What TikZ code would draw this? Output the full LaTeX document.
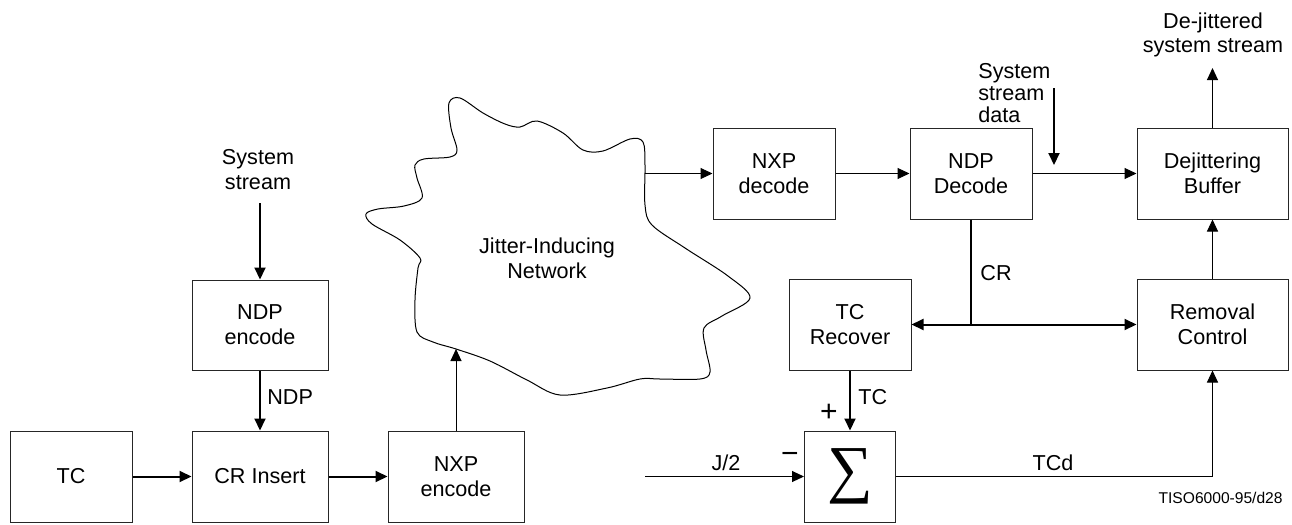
\documentclass[tikz,border=0pt]{standalone}
\usepackage{fontspec}
\setmainfont{Liberation Sans}
\newfontfamily\sumfont{Liberation Serif}
\usetikzlibrary{arrows.meta}

\tikzset{
  blk/.style={draw=black!85, line width=0.5pt, minimum height=45.5pt, inner sep=0pt,
    align=center, font=\fontsize{10.8}{12.5}\selectfont},
  lbl/.style={inner sep=0pt, font=\fontsize{10.8}{12.5}\selectfont},
  sign/.style={inner sep=0pt, font=\fontsize{15}{15}\selectfont},
  thin line/.style={line width=0.5pt},
  thick line/.style={line width=1pt},
  thinarr/.style={thin line, -{Triangle[length=6pt,width=5.5pt]}},
  thickarr/.style={thick line, -{Triangle[length=6pt,width=5.5pt]}},
}

\begin{document}
\begin{tikzpicture}[x=0.5pt,y=-0.5pt]
\useasboundingbox (0,0) rectangle (1292,525);

% sender side
\node[blk, minimum width=61pt] (tc) at (71,476.5) {TC};
\node[blk, minimum width=68pt] (crins) at (260,476.5) {CR Insert};
\node[blk, minimum width=68pt, minimum height=45pt] (ndpenc) at (260,325) {NDP\\encode};
\node[blk, minimum width=68pt] (nxpenc) at (456,476.5) {NXP\\encode};
\node[lbl, align=center] (sysin) at (258,170) {System\\stream};
\coordinate (sysin-end) at (260,203);

% network cloud
\draw[thin line] plot[smooth cycle, tension=0.55] coordinates {
  (449,103) (460,98) (483,113) (505,124) (520,127) (537,121) (563,133) (583,150)
  (603,151) (630,139) (643,142) (645,165) (645,205) (652,225) (685,248) (728,276)
  (750,298) (722,316) (704,328) (706,350) (710,372) (700,379) (660,379) (640,379)
  (607,388) (560,395) (527,380) (490,361) (456,349) (433,342) (417,332) (415,300)
  (418,268) (420,258) (400,240) (372,224) (366,214) (378,209) (404,206) (422,198)
  (417,178) (415,165) (424,159) (450,157) (457,150) (451,128)};
\node[lbl, align=center] (net) at (547,258) {Jitter-Inducing\\Network};
\coordinate (netin) at (456,349);
\coordinate (netout) at (645,173.5);

% receiver side
\node[blk, minimum width=61pt] (nxpdec) at (774,173.5) {NXP\\decode};
\node[blk, minimum width=61pt] (ndpdec) at (971,173.5) {NDP\\Decode};
\node[blk, minimum width=75.5pt] (dejit) at (1212.5,173.5) {Dejittering\\Buffer};
\node[blk, minimum width=61pt] (tcrec) at (850,324.5) {TC\\Recover};
\node[blk, minimum width=75.5pt] (remctl) at (1212.5,324.5) {Removal\\Control};
\node[blk, minimum width=45.5pt] (sum) at (850,476.5) {\sumfont\fontsize{32}{32}\selectfont ∑};
\node[lbl, align=left, anchor=west] (sysdata) at (978,93) {System\\[-1.7pt]stream\\[-1.7pt]data};
\node[lbl, align=center] (dejout) at (1213,35) {De-jittered\\[-0.3pt]system stream};
\coordinate (sysdata-top) at (1054,88);
\coordinate (sysdata-tip) at (1054,165);
\coordinate (dejout-end) at (1212.5,68);
\coordinate (crjoin) at (971,324.5);
\coordinate (j2start) at (645,476.5);

% labels
\node[lbl, anchor=west] (ndplbl) at (267,397) {NDP};
\node[lbl, anchor=west] (crlbl) at (980,273) {CR};
\node[lbl, anchor=west] (tclbl) at (858,397) {TC};
\node[sign] (plus) at (829,413) {+};
\node[sign] (minus) at (790,458) {−};
\node[lbl] (j2) at (726,463) {J/2};
\node[lbl] (tcd) at (1053,463) {TCd};
\node[inner sep=0pt, font=\fontsize{7.8}{9}\selectfont, anchor=east] (tiso) at (1283,498) {TISO6000-95/d28};

% connectors
\draw[thickarr] (sysin-end) -- (ndpenc.north);
\draw[thickarr] (ndpenc) -- (crins);
\draw[thickarr] (tc) -- (crins);
\draw[thickarr] (crins) -- (nxpenc);
\draw[thinarr] (nxpenc.north) -- (netin);
\draw[thinarr] (netout) -- (nxpdec);
\draw[thinarr] (nxpdec) -- (ndpdec);
\draw[thinarr] (ndpdec) -- (dejit);
\draw[thickarr] (sysdata-top) -- (sysdata-tip);
\draw[thinarr] (dejit) -- (dejout-end);
\draw[thick line] (ndpdec.south) -- (crjoin);
\draw[thickarr] (crjoin) -- (tcrec.east);
\draw[thickarr] (crjoin) -- (remctl.west);
\draw[thinarr] (remctl) -- (dejit);
\draw[thickarr] (tcrec.south) -- (sum.north);
\draw[thinarr] (j2start) -- (sum.west);
\draw[thinarr] (sum.east) -| (remctl.south);
\end{tikzpicture}
\end{document}
